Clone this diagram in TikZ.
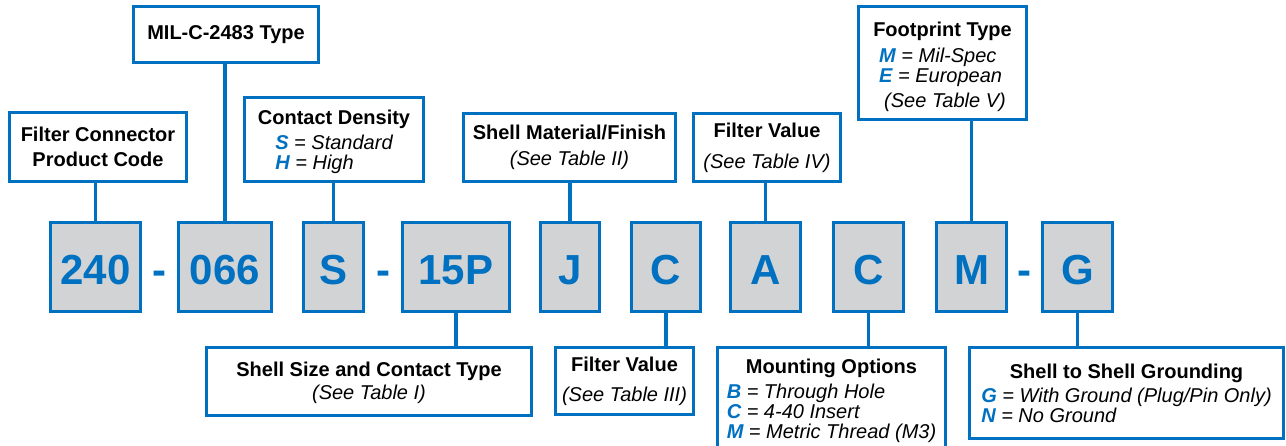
\documentclass[tikz,border=0pt]{standalone}
\usepackage{fontspec}
\setmainfont{Liberation Sans}
\usetikzlibrary{calc}
\definecolor{milblue}{HTML}{0070C0}
\definecolor{boxgray}{HTML}{D1D3D4}
\newcommand{\codeopt}[2]{{\bfseries\color{milblue}#1} = #2}
\newcommand{\codefont}{\fontsize{42}{42}\selectfont\bfseries}

\tikzset{
  codebox/.style={draw=milblue, line width=3.2pt, fill=boxgray, text=milblue,
    font=\codefont, minimum height=88.8pt, inner sep=0pt,
    text height=34pt, text depth=0pt},
  dashsign/.style={text=milblue, font=\codefont, minimum height=88.8pt,
    inner sep=0pt, text height=34pt, text depth=0pt},
  labelbox/.style={draw=milblue, line width=3pt, fill=white, align=center,
    inner sep=0pt, font=\fontsize{20}{20}\selectfont\bfseries},
  link/.style={draw=milblue, line width=3.2pt},
}

\begin{document}
\begin{tikzpicture}[x=1pt,y=-1pt]

\useasboundingbox (0,0) rectangle (1286,445);
\clip (0,0) rectangle (1286,445);

% part number fields
\node[codebox, minimum width=89.8pt] (c240) at (95.5,267) {240};
\node[codebox, minimum width=92.8pt] (c066) at (225,267) {066};
\node[codebox, minimum width=59.8pt] (cS) at (333.5,267) {S};
\node[codebox, minimum width=106.8pt] (c15P) at (456,267) {15P};
\node[codebox, minimum width=58.8pt] (cJ) at (570,267) {J};
\node[codebox, minimum width=68.8pt] (cC) at (666,267) {C};
\node[codebox, minimum width=69.8pt] (cA) at (765.5,267) {A};
\node[codebox, minimum width=69.8pt] (cCm) at (868.5,267) {C};
\node[codebox, minimum width=69.8pt] (cM) at (971.5,267) {M};
\node[codebox, minimum width=69.8pt] (cG) at (1077.5,267) {G};

\node[dashsign] (d1) at ($(c240.east)!0.5!(c066.west)$) {-};
\node[dashsign] (d2) at ($(cS.east)!0.5!(c15P.west)$) {-};
\node[dashsign] (d3) at ($(cM.east)!0.5!(cG.west)$) {-};

% upper labels
\node[labelbox, minimum width=177pt, minimum height=69pt] (lProd) at (98,147)
  {Filter Connector\\[5pt]Product Code};
\node[labelbox, minimum width=185pt, minimum height=56pt] (lType) at (226,34.5)
  {MIL-C-2483 Type};
\node[labelbox, minimum width=179pt, minimum height=84pt] (lDens) at (334,139.5)
  {\rule{0pt}{20.5pt}Contact Density\\[5pt]\mdseries\itshape
   \begin{tabular}[t]{@{}l@{}}\codeopt{S}{Standard}\\\codeopt{H}{High}\end{tabular}};
\node[labelbox, minimum width=212pt, minimum height=68pt] (lShell) at (569.5,147.5)
  {Shell Material/Finish\\[6pt]\mdseries\itshape (See Table II)};
\node[labelbox, minimum width=147pt, minimum height=68pt] (lFiltA) at (767,147.5)
  {Filter Value\\[11pt]\mdseries\itshape (See Table IV)};
\node[labelbox, minimum width=168pt, minimum height=113pt] (lFoot) at (942.5,63)
  {\rule{0pt}{24.5pt}Footprint Type\\[6pt]\mdseries\itshape
   \begin{tabular}[t]{@{}l@{}}\codeopt{M}{Mil-Spec}\\\codeopt{E}{European}\\[5pt]
   \hspace{5pt}(See Table V)\end{tabular}};

% lower labels
\node[labelbox, minimum width=325pt, minimum height=68pt] (lSize) at (369,381.5)
  {\rule{0pt}{17pt}Shell Size and Contact Type\\[3pt]\mdseries\itshape (See Table I)};
\node[labelbox, minimum width=138pt, minimum height=67pt] (lFiltB) at (624.5,381)
  {Filter Value\\[10pt]\mdseries\itshape (See Table III)};
\node[labelbox, minimum width=228pt, minimum height=109pt] (lMount) at (831.5,402)
  {Mounting Options\\[5pt]\mdseries\itshape
   \begin{tabular}[t]{@{}l@{}}\codeopt{B}{Through Hole}\\\codeopt{C}{4-40 Insert}\\
   \codeopt{M}{Metric Thread (M3)}\end{tabular}};
\node[labelbox, minimum width=314pt, minimum height=91pt] (lGround) at (1126.5,393)
  {\rule{0pt}{20.5pt}Shell to Shell Grounding\\[4pt]\mdseries\itshape
   \begin{tabular}[t]{@{}l@{}}\codeopt{G}{With Ground (Plug/Pin Only)}\\
   \codeopt{N}{No Ground}\end{tabular}};

% leaders
\draw[link] (c240.north) -- (c240.north |- lProd.south);
\draw[link] (c066.north) -- (c066.north |- lType.south);
\draw[link] (cS.north) -- (cS.north |- lDens.south);
\draw[link] (cJ.north) -- (cJ.north |- lShell.south);
\draw[link] (cA.north) -- (cA.north |- lFiltA.south);
\draw[link] (cM.north) -- (cM.north |- lFoot.south);
\draw[link] (c15P.south) -- (c15P.south |- lSize.north);
\draw[link] (cC.south) -- (cC.south |- lFiltB.north);
\draw[link] (cCm.south) -- (cCm.south |- lMount.north);
\draw[link] (cG.south) -- (cG.south |- lGround.north);
\end{tikzpicture}
\end{document}
